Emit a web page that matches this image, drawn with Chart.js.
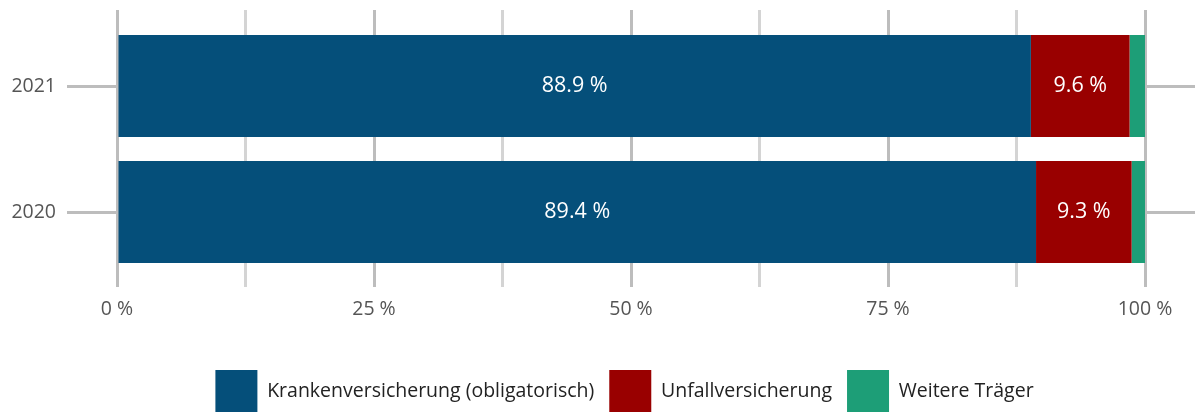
<!DOCTYPE html>
<html>
<head>
<meta charset="utf-8">
<script src="https://cdn.jsdelivr.net/npm/chart.js@4"></script>
<style>
  html, body { margin: 0; padding: 0; background: #fff; overflow: hidden; }
  #wrap { width: 1204px; height: 422px; }
</style>
</head>
<body>
<div id="wrap"><canvas id="chart" width="1204" height="422"></canvas></div>
<script>
// values
const years = ["2021", "2020"];
const krankenversicherung = [88.9, 89.4];
const unfallversicherung = [9.6, 9.3];
const weitereTraeger = [1.5, 1.3];
const seriesNames = ["Krankenversicherung (obligatorisch)", "Unfallversicherung", "Weitere Träger"];
const seriesColors = ["#054f7a", "#990000", "#1d9e77"];
const labelledSeries = [0, 1]; // the green slice has no label

const font = "'Open Sans', 'Noto Sans', sans-serif";

// white labels in the middle of the blue and red parts
const barLabels = {
    id: "barLabels",
    afterDatasetsDraw(chart) {
        const ctx = chart.ctx;
        ctx.save();
        ctx.fillStyle = "#ffffff";
        ctx.font = "21.5px " + font;
        ctx.textAlign = "center";
        ctx.textBaseline = "middle";
        labelledSeries.forEach(function (di) {
            const meta = chart.getDatasetMeta(di);
            meta.data.forEach(function (bar, i) {
                const v = chart.data.datasets[di].data[i];
                const cx = (bar.x + bar.base) / 2;
                ctx.fillText(v.toFixed(1) + " %", cx, bar.y);
            });
        });
        ctx.restore();
    }
};

const gridColor = function (c) {
    return c.tick && c.tick.value % 25 === 0 ? "#bdbdbd" : "#d4d4d4";
};

const ctx = document.getElementById("chart").getContext("2d");
new Chart(ctx, {
    type: "bar",
    data: {
        labels: years,
        datasets: [
            { label: seriesNames[0], data: krankenversicherung, backgroundColor: seriesColors[0] },
            { label: seriesNames[1], data: unfallversicherung, backgroundColor: seriesColors[1] },
            { label: seriesNames[2], data: weitereTraeger, backgroundColor: seriesColors[2] }
        ]
    },
    options: {
        indexAxis: "y",
        responsive: false,
        animation: false,
        events: [],
        categoryPercentage: 1,
        barPercentage: 0.81,
        // negative right padding only moves the legend centre to the right
        layout: { padding: { left: 0, right: -45, top: 0, bottom: 0 } },
        scales: {
            x: {
                type: "linear",
                stacked: true,
                min: 0,
                max: 100,
                position: "bottom",
                border: { display: false },
                grid: { color: gridColor, lineWidth: 3, tickLength: 12, drawOnChartArea: true },
                ticks: {
                    stepSize: 12.5,
                    padding: 11,
                    color: "#555555",
                    font: { family: font, size: 19.5 },
                    callback: function (v) { return v % 25 === 0 ? v + " %" : ""; }
                },
                afterFit: function (s) { s.height = 80; }
            },
            x2: {
                type: "linear",
                axis: "x",
                min: 0,
                max: 100,
                position: "top",
                border: { display: false },
                grid: { color: gridColor, lineWidth: 3, tickLength: 13, drawOnChartArea: false },
                ticks: { stepSize: 12.5, display: false },
                afterFit: function (s) { s.height = 23; }
            },
            y: {
                type: "category",
                stacked: true,
                position: "left",
                offset: true,
                border: { display: false },
                grid: { color: "#bdbdbd", lineWidth: 3, tickLength: 50, drawOnChartArea: false, offset: false },
                ticks: { padding: 11, color: "#555555", font: { family: font, size: 19.5 } },
                afterFit: function (s) { s.width = 117; }
            },
            y2: {
                type: "category",
                axis: "y",
                position: "right",
                offset: true,
                border: { display: false },
                grid: { color: "#bdbdbd", lineWidth: 3, tickLength: 50, drawOnChartArea: false, offset: false },
                ticks: { display: false },
                afterFit: function (s) { s.width = 104; }
            }
        },
        plugins: {
            tooltip: { enabled: false },
            legend: {
                position: "bottom",
                labels: {
                    boxWidth: 42,
                    boxHeight: 42,
                    padding: 15,
                    color: "#222222",
                    font: { family: font, size: 19.5 }
                }
            }
        }
    },
    plugins: [barLabels]
});
</script>
</body>
</html>
